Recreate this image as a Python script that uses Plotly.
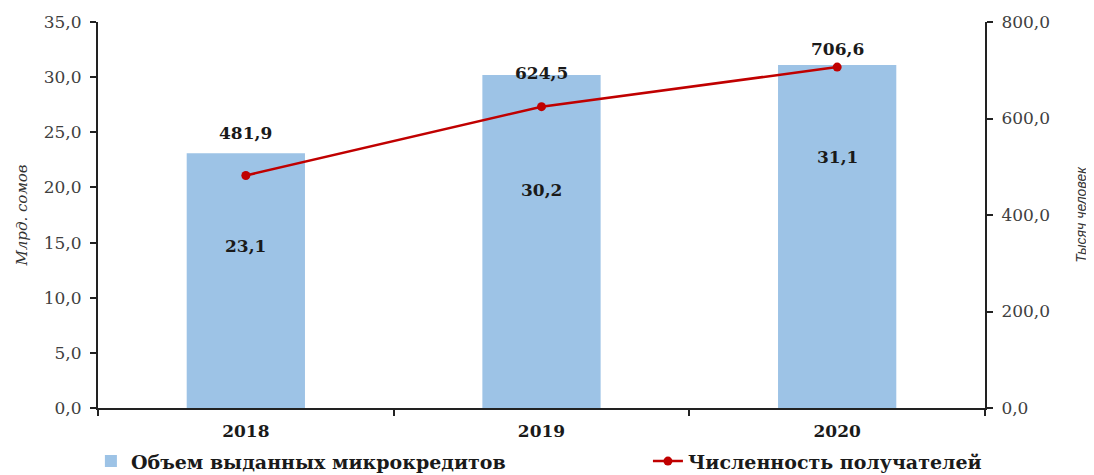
import plotly.graph_objects as go

years = ["2018", "2019", "2020"]
volume = [23.1, 30.2, 31.1]          # Млрд. сомов
recipients = [481.9, 624.5, 706.6]   # Тысяч человек
vol_labels = ["23,1", "30,2", "31,1"]
rec_labels = ["481,9", "624,5", "706,6"]
left_ticks = [0, 5, 10, 15, 20, 25, 30, 35]
right_ticks = [0, 200, 400, 600, 800]

SERIF = "DejaVu Serif"

fig = go.Figure()
fig.add_trace(go.Bar(
    x=years, y=volume, name="<b>Объем выданных микрокредитов</b>",
    marker=dict(color="#9DC3E6", line=dict(width=0)), width=0.4,
    yaxis="y", legend="legend",
))
fig.add_trace(go.Scatter(
    x=years, y=recipients, name="<b>Численность получателей</b>",
    mode="lines+markers", line=dict(color="#C00000", width=2.5),
    marker=dict(color="#C00000", size=9), yaxis="y2", legend="legend2",
))

# bar value labels (placed inside bars)
vol_label_pos = [14.7, 19.8, 22.8]
for i, (pos, t) in enumerate(zip(vol_label_pos, vol_labels)):
    fig.add_annotation(x=i, xref="x", y=pos, yref="y", text="<b>%s</b>" % t, showarrow=False,
                       font=dict(family=SERIF, size=17, color="#1a1a1a"))
rec_label_pos = [570, 695, 745]
for i, (pos, t) in enumerate(zip(rec_label_pos, rec_labels)):
    fig.add_annotation(x=i, xref="x", y=pos, yref="y2", text="<b>%s</b>" % t, showarrow=False,
                       font=dict(family=SERIF, size=17, color="#1a1a1a"))

tick_font = dict(family=SERIF, size=17, color="#404040")
legend_font = dict(family=SERIF, size=19, color="#1a1a1a")
fig.update_layout(
    width=1086, height=467,
    margin=dict(l=90, r=109, t=14, b=67, autoexpand=False),
    paper_bgcolor="white", plot_bgcolor="white",
    showlegend=True,
    legend=dict(orientation="h", x=-0.008, xref="paper", y=-0.138, yref="paper",
                xanchor="left", yanchor="middle", font=legend_font,
                bgcolor="rgba(0,0,0,0)"),
    legend2=dict(orientation="h", x=0.62, xref="paper", y=-0.138, yref="paper",
                 xanchor="left", yanchor="middle", font=legend_font,
                 bgcolor="rgba(0,0,0,0)"),
    xaxis=dict(type="category", range=[-0.5, 2.5], showline=True, linecolor="#222",
               linewidth=2, ticks="outside", tickson="boundaries", ticklen=6, tickwidth=2,
               tickcolor="#222", automargin=False, ticklabelstandoff=7,
               tickfont=dict(family=SERIF, size=17, color="#1a1a1a"),
               tickprefix="<b>", ticksuffix="</b>", showgrid=False, zeroline=False),
    yaxis=dict(range=[0, 35], tickvals=left_ticks,
               ticktext=[("%.1f" % v).replace(".", ",") for v in left_ticks],
               showline=True, linecolor="#222", linewidth=2, ticks="outside",
               ticklen=6, tickwidth=2, tickcolor="#222", showgrid=False, zeroline=False,
               tickfont=tick_font, automargin=False, ticklabelstandoff=5,
               title=dict(text="<i>Млрд. сомов</i>",
                          font=dict(family=SERIF, size=15, color="#333"), standoff=12)),
    yaxis2=dict(range=[0, 800], tickvals=right_ticks,
                ticktext=[("%.1f" % v).replace(".", ",") for v in right_ticks],
                overlaying="y", side="right", showline=True, linecolor="#222", linewidth=2,
                ticks="outside", ticklen=6, tickwidth=2, tickcolor="#222",
                showgrid=False, zeroline=False, tickfont=tick_font, automargin=False,
                ticklabelstandoff=5,
                title=dict(text="<i>Тысяч человек</i>",
                           font=dict(family="Liberation Sans", size=14, color="#333"),
                           standoff=27)),
)

fig.write_html("out.html")
